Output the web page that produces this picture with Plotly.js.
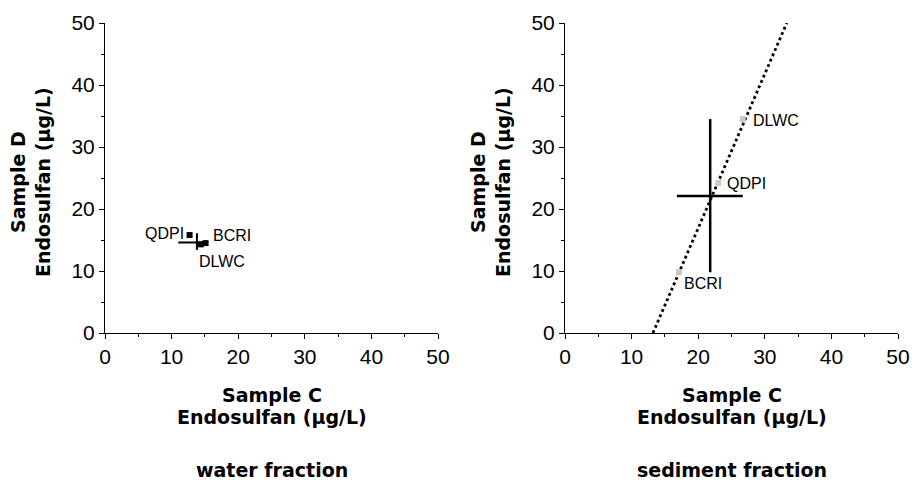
<!DOCTYPE html>
<html>
<head>
<meta charset="utf-8">
<script src="https://cdn.plot.ly/plotly-3.0.1.min.js"></script>
<style>html,body{margin:0;padding:0;background:#fff;}#chart{width:917px;height:483px;}</style>
</head>
<body>
<div id="chart"></div>
<script>
// ---- data ----
const sites = ['QDPI', 'BCRI', 'DLWC'];
const waterC = [12.7, 15.1, 14.4];
const waterD = [15.8, 14.5, 14.3];
const waterRangeC = [11.0, 15.5];
const waterRangeD = [13.4, 16.1];
const waterCenter = [13.8, 14.6];
const sedC = [23.0, 17.1, 26.7];
const sedD = [24.2, 9.8, 34.5];
const sedRangeC = [16.8, 26.7];
const sedRangeD = [9.8, 34.5];
const sedCenter = [21.8, 22.1];
const fitC = [13.2, 33.3];
const fitD = [0, 50];
const tickVals = [0, 10, 20, 30, 40, 50];
const tickText = ['0', '10', '20', '30', '40', '50'];
const titleX1 = 'Sample C';
const titleX2 = 'Endosulfan (µg/L)';
const titleY1 = 'Sample D';
const titleY2 = 'Endosulfan (µg/L)';
const panelTitles = ['water fraction', 'sediment fraction'];

// ---- styles ----
const W = 917, H = 483;
const tickFont = {family: 'Liberation Sans, Arial, sans-serif', size: 21, color: '#000'};
const labelFont = {family: 'Liberation Sans, Arial, sans-serif', size: 16, color: '#000'};
const boldFont = {family: 'DejaVu Sans, sans-serif', size: 19, color: '#000', weight: 'bold'};

function axis(domain, anchor) {
  return {
    domain: domain, anchor: anchor, range: [0, 50], autorange: false,
    tickvals: tickVals, ticktext: tickText, tickfont: tickFont,
    ticks: 'outside', ticklen: 5, tickwidth: 1, tickcolor: '#000',
    minor: {dtick: 5, tick0: 0, ticks: 'outside', ticklen: 3, tickwidth: 1, tickcolor: '#000'},
    showline: true, linecolor: '#000', linewidth: 1,
    showgrid: false, zeroline: false, fixedrange: true
  };
}
const yDom = [(H - 333) / H, (H - 23) / H];
const layout = {
  width: W, height: H, margin: {l: 0, r: 0, t: 0, b: 0},
  paper_bgcolor: '#fff', plot_bgcolor: '#fff', showlegend: false,
  xaxis: axis([105 / W, 438 / W], 'y'),
  yaxis: axis(yDom, 'x'),
  xaxis2: axis([565 / W, 898 / W], 'y2'),
  yaxis2: axis(yDom, 'x2'),
  annotations: []
};

const traces = [];
// left: water fraction
traces.push({x: waterRangeC, y: [waterCenter[1], waterCenter[1]], xaxis: 'x', yaxis: 'y', mode: 'lines', line: {color: '#000', width: 2}, hoverinfo: 'skip'});
traces.push({x: [waterCenter[0], waterCenter[0]], y: waterRangeD, xaxis: 'x', yaxis: 'y', mode: 'lines', line: {color: '#000', width: 2}, hoverinfo: 'skip'});
traces.push({x: waterC, y: waterD, text: sites, xaxis: 'x', yaxis: 'y', mode: 'markers', marker: {symbol: 'square', size: 6, color: '#000'}});
// right: sediment fraction
traces.push({x: fitC, y: fitD, xaxis: 'x2', yaxis: 'y2', mode: 'lines', line: {color: '#000', width: 2.8, dash: '2.8px,3px'}, hoverinfo: 'skip'});
traces.push({x: sedRangeC, y: [sedCenter[1], sedCenter[1]], xaxis: 'x2', yaxis: 'y2', mode: 'lines', line: {color: '#000', width: 2.5}, hoverinfo: 'skip'});
traces.push({x: [sedCenter[0], sedCenter[0]], y: sedRangeD, xaxis: 'x2', yaxis: 'y2', mode: 'lines', line: {color: '#000', width: 2.5}, hoverinfo: 'skip'});
traces.push({x: sedC, y: sedD, text: sites, xaxis: 'x2', yaxis: 'y2', mode: 'markers', marker: {symbol: 'square', size: 6, color: '#c8c8c8'}});

// point labels
const waterOffsets = [{xa: 'right', dx: -4, dy: 2}, {xa: 'left', dx: 5, dy: 8}, {xa: 'left', dx: -4, dy: -17}];
const sedOffsets = [{xa: 'left', dx: 7, dy: -1}, {xa: 'left', dx: 3, dy: -11}, {xa: 'left', dx: 8, dy: -1}];
sites.forEach((s, i) => {
  layout.annotations.push({x: waterC[i], y: waterD[i], xref: 'x', yref: 'y', text: s, showarrow: false,
    xanchor: waterOffsets[i].xa, yanchor: 'middle', xshift: waterOffsets[i].dx, yshift: waterOffsets[i].dy, font: labelFont});
  layout.annotations.push({x: sedC[i], y: sedD[i], xref: 'x2', yref: 'y2', text: s, showarrow: false,
    xanchor: sedOffsets[i].xa, yanchor: 'middle', xshift: sedOffsets[i].dx, yshift: sedOffsets[i].dy, font: labelFont});
});

// axis titles and panel titles
const centersX = [271.5, 731.5];
const axisLeft = [105, 565];
[0, 1].forEach(p => {
  const cx = centersX[p] / W;
  layout.annotations.push({xref: 'paper', yref: 'paper', x: cx, y: (H - 395) / H, text: titleX1, showarrow: false, xanchor: 'center', yanchor: 'middle', font: boldFont});
  layout.annotations.push({xref: 'paper', yref: 'paper', x: cx, y: (H - 417) / H, text: titleX2, showarrow: false, xanchor: 'center', yanchor: 'middle', font: boldFont});
  layout.annotations.push({xref: 'paper', yref: 'paper', x: cx, y: (H - 470) / H, text: panelTitles[p], showarrow: false, xanchor: 'center', yanchor: 'middle', font: boldFont});
  layout.annotations.push({xref: 'paper', yref: 'paper', x: (axisLeft[p] - 87) / W, y: (H - 182) / H, text: titleY1, textangle: -90, showarrow: false, xanchor: 'center', yanchor: 'middle', font: boldFont});
  layout.annotations.push({xref: 'paper', yref: 'paper', x: (axisLeft[p] - 62) / W, y: (H - 182) / H, text: titleY2, textangle: -90, showarrow: false, xanchor: 'center', yanchor: 'middle', font: boldFont});
});

Plotly.newPlot('chart', traces, layout, {displayModeBar: false, staticPlot: true});
</script>
</body>
</html>
